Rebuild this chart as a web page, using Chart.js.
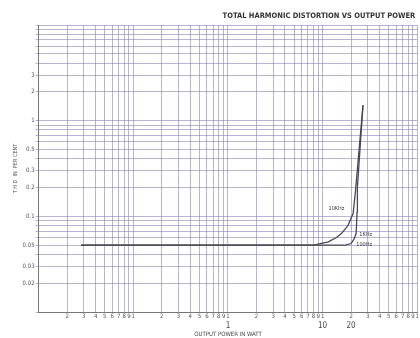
<!DOCTYPE html>
<html>
<head>
<meta charset="utf-8">
<script src="https://cdn.jsdelivr.net/npm/chart.js@4"></script>
<style>
  body { margin: 0; background: #fff; }
</style>
</head>
<body>
<canvas id="thd" width="420" height="338"></canvas>
<script>
// Data (power in W, THD in %)
const power10k = [0.028, 7, 8, 11.5, 14, 15.8, 18.5, 21, 22.2, 26.7];
const thd10k   = [0.05, 0.05, 0.05, 0.054, 0.06, 0.066, 0.08, 0.107, 0.18, 1.45];

const power1k = [0.028, 17.5, 20, 21.5, 22.6, 23.1, 23.3, 26.7];
const thd1k   = [0.05, 0.05, 0.052, 0.058, 0.066, 0.11, 0.2, 1.45];

// Curve labels
const curveNames = ['10KHz', '1KHz', '100Hz'];
const curveNamePower = [14, 28.5, 27.5];
const curveNameThd = [0.12, 0.064, 0.051];

// Axis ticks
const mantissas = [1, 2, 3, 4, 5, 6, 7, 8, 9];
const xDecades = [0.01, 0.1, 1, 10];
const yDecades = [0.01, 0.1, 1];
const yLabelValues = [0.02, 0.03, 0.05, 0.1, 0.2, 0.3, 0.5, 1, 2, 3];
const xBigLabels = [1, 10, 20];

function gridValues(decades, top) {
    const vals = [];
    decades.forEach(d => {
        mantissas.forEach(m => vals.push(Number((m * d).toPrecision(3))));
    });
    vals.push(top);
    return vals;
}
const xGrid = gridValues(xDecades, 100);
const yGrid = gridValues(yDecades, 10);

const narrow = '"Liberation Sans Narrow", "DejaVu Sans Condensed", "Liberation Sans", sans-serif';
const tickFont = { family: narrow, size: 6 };
const gridColor = 'rgba(140, 130, 180, 0.6)';
const lineColor = '#4a4652';

// Draw curve names next to the lines
const curveNamePlugin = {
    id: 'curveNames',
    afterDatasetsDraw(chart) {
        const ctx = chart.ctx;
        const xs = chart.scales.x, ys = chart.scales.y;
        ctx.save();
        ctx.font = '5.5px ' + narrow;
        ctx.fillStyle = '#333';
        ctx.textAlign = 'center';
        ctx.textBaseline = 'middle';
        curveNames.forEach((name, i) => {
            ctx.fillText(name, xs.getPixelForValue(curveNamePower[i]), ys.getPixelForValue(curveNameThd[i]));
        });
        ctx.restore();
    }
};

new Chart(document.getElementById('thd').getContext('2d'), {
    type: 'line',
    data: {
        datasets: [{
            label: '10KHz',
            data: power10k.map((p, i) => ({ x: p, y: thd10k[i] })),
            borderColor: lineColor,
            borderWidth: 1.3,
            pointRadius: 0,
            fill: false,
            tension: 0
        }, {
            label: '1KHz / 100Hz',
            data: power1k.map((p, i) => ({ x: p, y: thd1k[i] })),
            borderColor: lineColor,
            borderWidth: 1.3,
            pointRadius: 0,
            fill: false,
            tension: 0
        }]
    },
    options: {
        responsive: false,
        animation: false,
        layout: { padding: { left: 12, right: 0, top: 0, bottom: 0 } },
        plugins: {
            legend: { display: false },
            tooltip: { enabled: false },
            title: {
                display: true,
                text: 'TOTAL HARMONIC DISTORTION VS OUTPUT POWER  ',
                align: 'end',
                color: '#333',
                font: { family: narrow, size: 7.5, weight: 'bold' },
                padding: { top: 12, bottom: 4 }
            }
        },
        scales: {
            x: {
                type: 'logarithmic',
                position: 'bottom',
                min: 0.01,
                max: 100,
                afterBuildTicks: scale => { scale.ticks = xGrid.map(v => ({ value: v })); },
                ticks: {
                    autoSkip: false,
                    maxRotation: 0,
                    padding: 1,
                    color: '#555',
                    font: tickFont,
                    callback: v => v === 0.01 ? '' : String(Math.round(v / Math.pow(10, Math.floor(Math.log10(v) + 1e-9))))
                },
                grid: { color: gridColor, drawTicks: false },
                border: { color: '#777' }
            },
            x2: {
                type: 'logarithmic',
                position: 'bottom',
                min: 0.01,
                max: 100,
                afterBuildTicks: scale => { scale.ticks = xBigLabels.map(v => ({ value: v })); },
                ticks: {
                    autoSkip: false,
                    maxRotation: 0,
                    padding: 0,
                    color: '#444',
                    font: { family: narrow, size: 8 },
                    callback: v => String(v)
                },
                grid: { display: false, drawTicks: false },
                border: { display: false },
                title: {
                    display: true,
                    text: 'OUTPUT POWER IN WATT',
                    color: '#444',
                    font: { family: narrow, size: 6 },
                    padding: { top: 0, bottom: 0 }
                }
            },
            y: {
                type: 'logarithmic',
                min: 0.01,
                max: 10,
                afterBuildTicks: scale => { scale.ticks = yGrid.map(v => ({ value: v })); },
                ticks: {
                    autoSkip: false,
                    padding: 1,
                    color: '#555',
                    font: tickFont,
                    callback: v => yLabelValues.some(l => Math.abs(l - v) < 1e-9) ? String(v) : ''
                },
                grid: { color: gridColor, tickLength: 3 },
                border: { color: '#777' },
                title: {
                    display: true,
                    text: 'T H D  IN  PER CENT',
                    color: '#555',
                    font: { family: narrow, size: 5.5 },
                    padding: { top: 0, bottom: 3 }
                }
            }
        }
    },
    plugins: [curveNamePlugin]
});
</script>
</body>
</html>
